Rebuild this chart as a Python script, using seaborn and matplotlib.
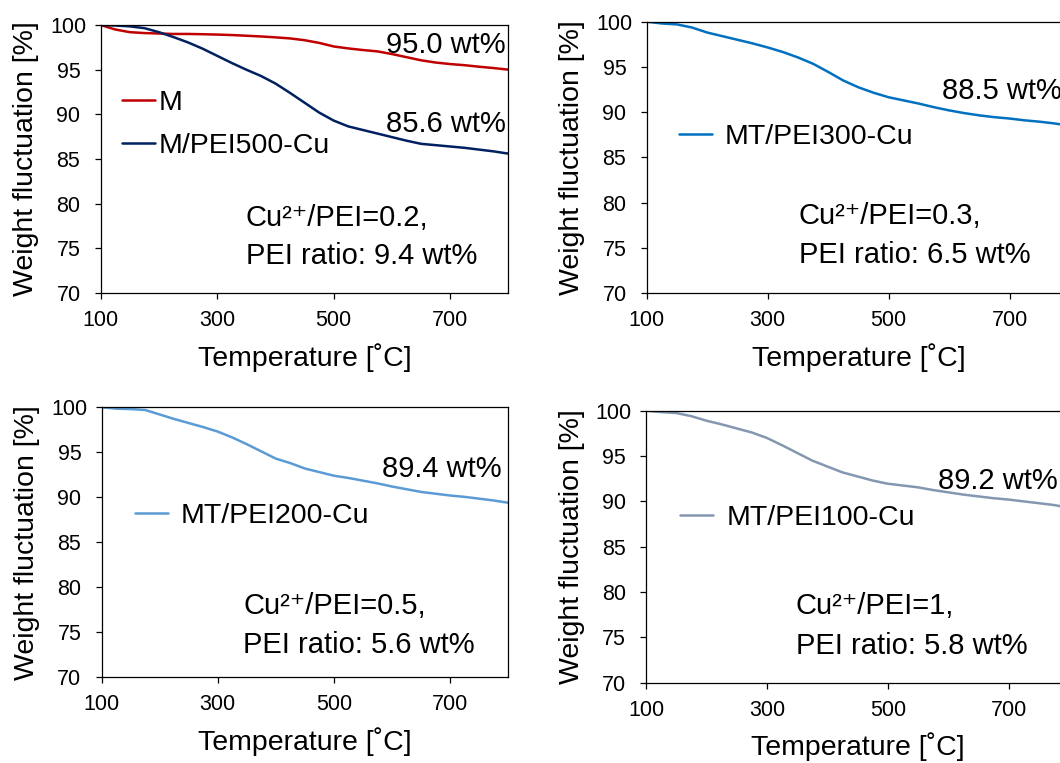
import matplotlib
matplotlib.use("Agg")
import matplotlib.pyplot as plt
import seaborn as sns
import pandas as pd

# ---------------- data ----------------
temperature = [100, 125, 150, 175, 200, 225, 250, 275, 300, 325, 350, 375, 400, 425, 450,
               475, 500, 525, 550, 575, 600, 625, 650, 675, 700, 725, 750, 775, 800]
m_series = [100, 99.5, 99.2, 99.1, 99.05, 99.0, 99.0, 98.97, 98.93, 98.88, 98.8, 98.72, 98.62, 98.5, 98.3,
            98.0, 97.6, 97.38, 97.2, 97.05, 96.75, 96.4, 96.05, 95.8, 95.63, 95.5, 95.33, 95.18, 95.0]
m_pei500 = [100, 99.95, 99.85, 99.65, 99.2, 98.65, 98.05, 97.35, 96.55, 95.75, 95.0, 94.3, 93.45, 92.4, 91.3,
            90.2, 89.3, 88.65, 88.25, 87.85, 87.45, 87.05, 86.7, 86.55, 86.4, 86.25, 86.05, 85.85, 85.6]
mt_pei300 = [100, 99.8, 99.7, 99.35, 98.8, 98.4, 98.0, 97.6, 97.15, 96.65, 96.05, 95.35, 94.45, 93.5, 92.75,
             92.15, 91.65, 91.3, 90.95, 90.55, 90.2, 89.9, 89.65, 89.45, 89.3, 89.1, 88.95, 88.75, 88.5]
mt_pei200 = [100, 99.85, 99.8, 99.7, 99.2, 98.7, 98.25, 97.8, 97.3, 96.65, 95.9, 95.1, 94.3, 93.8, 93.2,
             92.8, 92.4, 92.15, 91.85, 91.55, 91.2, 90.9, 90.6, 90.4, 90.2, 90.05, 89.85, 89.65, 89.4]
mt_pei100 = [100, 99.85, 99.75, 99.4, 98.9, 98.5, 98.05, 97.6, 97.0, 96.2, 95.35, 94.5, 93.85, 93.2, 92.75,
             92.3, 91.95, 91.75, 91.55, 91.25, 91.0, 90.75, 90.55, 90.35, 90.2, 90.0, 89.8, 89.6, 89.3]

x_ticks = [100, 300, 500, 700]
y_ticks = [70, 75, 80, 85, 90, 95, 100]

# ---------------- style ----------------
sns.set_theme(style="white")
plt.rcParams["font.family"] = ["Liberation Sans", "DejaVu Sans"]
plt.rcParams["text.color"] = "black"
plt.rcParams["axes.labelcolor"] = "black"
plt.rcParams["xtick.color"] = "black"
plt.rcParams["ytick.color"] = "black"

TXT = 21
fig = plt.figure(figsize=(10.6, 7.63), dpi=100)

panels = [
    dict(pos=[0.0950, 0.6160, 0.3847, 0.3512],
         series=[("M", m_series, "#C00000"), ("M/PEI500-Cu", m_pei500, "#002060")],
         leg=(0.0522, 0.6287), htp=0.12,
         texts=[(795, 96.83, "95.0 wt%", "right"), (795, 88.05, "85.6 wt%", "right"),
                (349, 77.5, "Cu²⁺/PEI=0.2,", "left"), (349, 73.2, "PEI ratio: 9.4 wt%", "left")]),
    dict(pos=[0.6101, 0.6156, 0.3995, 0.3560],
         series=[("MT/PEI300-Cu", mt_pei300, "#0070C0")],
         leg=(0.0763, 0.5755), htp=0.45,
         texts=[(587.6, 91.49, "88.5 wt%", "left"),
                (351.7, 77.65, "Cu²⁺/PEI=0.3,", "left"), (351.7, 73.3, "PEI ratio: 6.5 wt%", "left")]),
    dict(pos=[0.0959, 0.1123, 0.3833, 0.3539],
         series=[("MT/PEI200-Cu", mt_pei200, "#5B9BD5")],
         leg=(0.082, 0.5974), htp=0.45,
         texts=[(789.6, 92.2, "89.4 wt%", "right"),
                (343.6, 77.03, "Cu²⁺/PEI=0.5,", "left"), (343.6, 72.67, "PEI ratio: 5.6 wt%", "left")]),
    dict(pos=[0.6094, 0.1052, 0.3992, 0.3565],
         series=[("MT/PEI100-Cu", mt_pei100, "#8497B0")],
         leg=(0.0803, 0.6055), htp=0.5,
         texts=[(583, 91.4, "89.2 wt%", "left"),
                (348, 77.58, "Cu²⁺/PEI=1,", "left"), (348, 73.2, "PEI ratio: 5.8 wt%", "left")]),
]

for p in panels:
    ax = fig.add_axes(p["pos"])
    for name, vals, col in p["series"]:
        df = pd.DataFrame({"T": temperature, "W": vals})
        sns.lineplot(data=df, x="T", y="W", ax=ax, color=col, linewidth=1.8, label=name)
    ax.set_xlim(100, 800)
    ax.set_ylim(70, 100)
    ax.set_xticks(x_ticks)
    ax.set_yticks(y_ticks)
    ax.set_xlabel("Temperature [˚C]", fontsize=20.5, labelpad=8.5, color="black")
    ax.set_ylabel("Weight fluctuation [%]", fontsize=20.5, labelpad=8, color="black")
    for s in ax.spines.values():
        s.set_color("black")
        s.set_linewidth(0.9)
        s.set_visible(True)
    ax.tick_params(axis="both", which="major", direction="out", length=4.2, width=0.9,
                   color="black", labelcolor="black", labelsize=15.5, left=True, bottom=True)
    ax.tick_params(axis="y", pad=19)
    ax.tick_params(axis="x", pad=8)
    for lab in ax.get_yticklabels():
        lab.set_horizontalalignment("center")
    ax.grid(False)
    leg = ax.legend(loc="center left", bbox_to_anchor=p["leg"], frameon=False,
                    fontsize=20.5, handlelength=1.15, handletextpad=p["htp"],
                    labelspacing=0.62, borderpad=0, borderaxespad=0)
    for t in leg.get_texts():
        t.set_color("black")
    for x, y, s, ha in p["texts"]:
        ax.text(x, y, s, ha=ha, va="baseline", fontsize=TXT, color="black")

fig.savefig("out.png", dpi=100)
